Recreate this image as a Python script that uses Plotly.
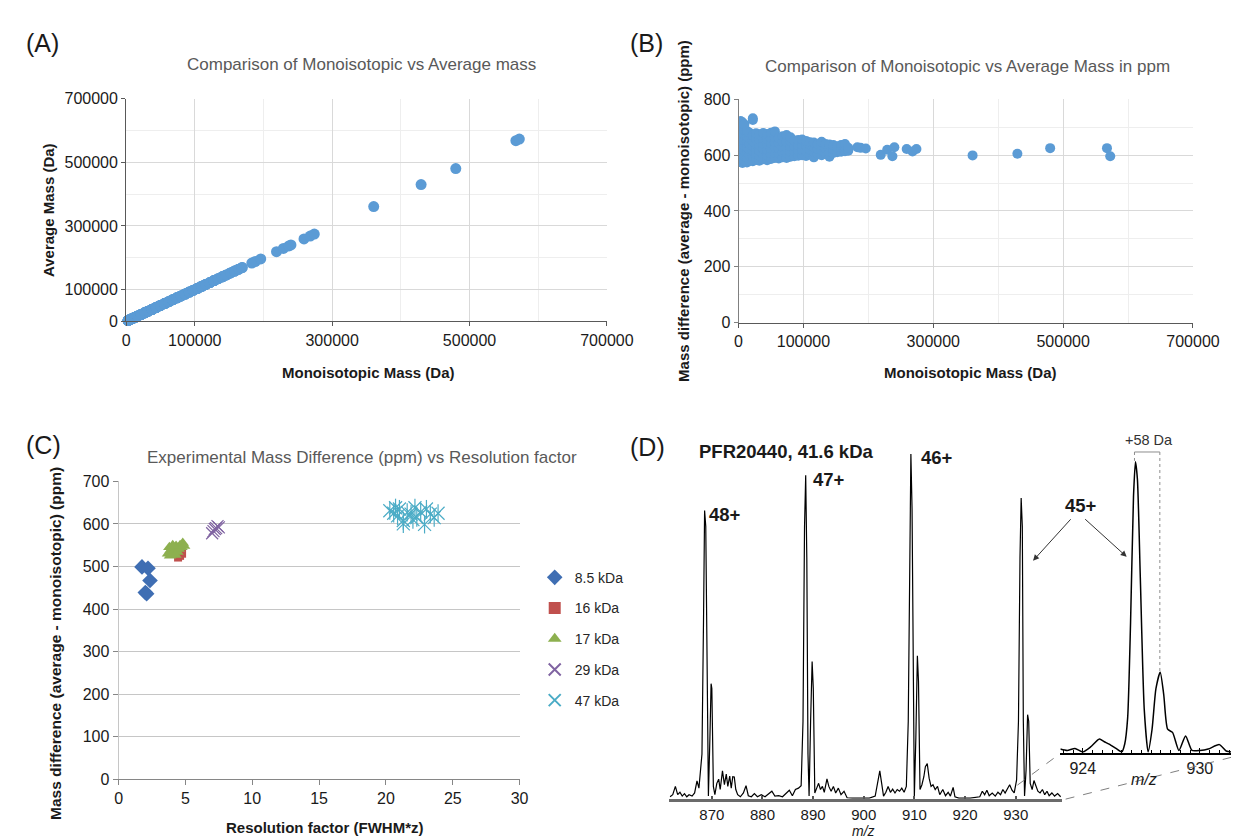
import plotly.graph_objects as go

W, H = 1251, 840
FONT = "Liberation Sans, Arial, sans-serif"

# ---------------- Panels A & B : monoisotopic vs average mass ----------------
cloud_mass_da = [3000, 6000, 9000, 13000, 17000, 22000, 27000, 32000, 38000, 44000,
                 50000, 56000, 62000, 68000, 74000, 80000, 86000, 92000, 98000, 104000,
                 110000, 116000, 122000, 128000, 134000, 140000, 146000, 152000, 158000,
                 164000, 169000]
cloud_ppm = [
    [575, 595, 615, 635, 655, 675, 695, 715, 722],
    [572, 590, 608, 626, 644, 662, 680, 700, 718],
    [578, 597, 616, 634, 652, 671, 690, 710],
    [574, 592, 612, 630, 650, 668, 686],
    [580, 600, 620, 640, 660, 680],
    [578, 596, 615, 633, 652, 670, 732, 726],
    [583, 602, 621, 640, 659, 678],
    [580, 598, 617, 636, 655, 675],
    [585, 603, 622, 641, 660, 679],
    [582, 600, 619, 638, 657, 676],
    [586, 605, 624, 643, 662, 680],
    [590, 608, 627, 646, 665, 685],
    [588, 606, 625, 644, 662],
    [592, 610, 629, 648, 668],
    [590, 609, 628, 647, 672],
    [594, 612, 631, 650, 664],
    [596, 614, 633, 652],
    [598, 616, 635, 654],
    [600, 618, 637, 656],
    [597, 615, 634, 651],
    [602, 620, 638, 646],
    [592, 611, 629, 645],
    [604, 622, 640],
    [600, 618, 636, 648],
    [606, 624, 640],
    [594, 612, 630, 638],
    [608, 622, 636],
    [610, 626, 632],
    [612, 624, 636],
    [614, 628, 640],
    [616, 626],
]
large_mass_da = [183000, 188000, 196000, 219000, 229000, 237000, 240000, 259000,
                 268000, 274000, 360500, 429500, 480000, 567500, 572500]
large_ppm = [628, 626, 624, 601, 619, 596, 628, 622, 613, 622, 599, 605, 625, 625, 596]

mono_mass = []
ppm_diff = []
for m, row in zip(cloud_mass_da, cloud_ppm):
    for p in row:
        mono_mass.append(m)
        ppm_diff.append(p)
mono_mass += large_mass_da
ppm_diff += large_ppm
avg_mass = [m * (1 + p * 1e-6) for m, p in zip(mono_mass, ppm_diff)]

mass_ticks = [0, 100000, 300000, 500000, 700000]
mass_minor = [200000, 400000, 600000]

# ---------------- Panel C : experimental mass difference ----------------
series_names = ["8.5 kDa", "16 kDa", "17 kDa", "29 kDa", "47 kDa"]
res_85 = [1.75, 2.2, 2.35, 2.0, 2.1]
ppm_85 = [499, 496, 467, 439, 436]
res_16 = [4.45, 4.6, 4.75]
ppm_16 = [521, 525, 530]
res_17 = [3.7, 3.8, 3.9, 4.0, 4.1, 4.2, 4.3, 4.4, 4.5, 4.6, 4.7, 4.8, 4.9, 3.85, 4.25, 4.05]
ppm_17 = [530, 545, 538, 528, 542, 535, 548, 534, 541, 550, 545, 555, 548, 525, 527, 550]
res_29 = [7.0, 7.2, 7.4, 7.3, 7.5, 7.1]
ppm_29 = [578, 588, 595, 590, 592, 583]
res_47 = [20.29, 20.58, 20.87, 21.01, 21.3, 21.59, 21.88, 22.17, 22.31, 22.6, 22.89,
          23.03, 23.32, 23.61, 23.9, 21.3, 22.02, 20.72]
ppm_47 = [631, 625, 619, 635, 608, 627, 623, 638, 615, 628, 599, 635, 623, 615, 625,
          600, 610, 638]

# ---------------- Panel D : spectrum ----------------
spec_mz = [861.75, 862.28, 862.8, 863.25, 863.7, 864.15, 864.6, 865.05, 865.5, 866.1,
           866.6, 867.07, 867.45, 867.75, 868.05, 868.35, 868.57, 868.8, 869.1, 869.32,
           869.62, 869.85, 870.0, 870.3, 870.6, 870.98, 871.35, 871.65, 872.1, 872.48,
           872.85, 873.15, 873.53, 873.83, 874.13, 874.43, 874.73, 875.1, 875.63, 876.23,
           876.75, 877.2, 877.8, 878.4, 879.0, 879.75, 880.5, 881.25, 881.85, 882.45,
           883.2, 883.95, 884.7, 885.3, 885.9, 886.5, 887.1, 887.63, 888.0, 888.3,
           888.53, 888.75, 888.98, 889.2, 889.5, 889.8, 890.03, 890.33, 890.7, 891.08,
           891.45, 891.83, 892.2, 892.73, 893.1, 893.55, 894.0, 894.45, 894.98, 895.5,
           896.1, 896.7, 897.75, 899.25, 901.1, 902.25, 902.78, 903.16, 903.53, 903.9,
           904.36, 904.8, 905.26, 905.7, 906.16, 906.6, 907.06, 907.5, 907.96, 908.4,
           908.78, 909.08, 909.3, 909.53, 909.76, 909.98, 910.28, 910.58, 910.8, 911.1,
           911.48, 911.86, 912.16, 912.53, 912.9, 913.28, 913.66, 914.1, 914.56, 915.0,
           915.6, 916.13, 916.66, 917.1, 917.64, 918.0, 918.76, 921.0, 922.9, 923.4,
           923.86, 924.3, 924.76, 925.36, 925.96, 926.49, 927.0, 927.46, 927.9, 928.36,
           928.8, 929.26, 929.7, 930.17, 930.54, 930.84, 931.07, 931.3, 931.5, 931.74,
           932.04, 932.34, 932.56, 932.86, 933.24, 933.6, 934.0, 934.37, 934.8, 935.27,
           935.72, 936.17, 936.6, 937.14, 937.67, 938.27, 938.87]
spec_int = [0.6, 1.2, 3.6, 1.2, 1.9, 0.8, 1.5, 0.6, 1.2, 0.8,
            1.7, 5.2, 3.1, 7.4, 13, 51, 83.6, 79, 22.5, 0.8,
            17.8, 33.4, 32, 3.6, 1.2, 4.5, 5.7, 2.7, 8.1, 4.1,
            7.2, 3.6, 6.6, 3.1, 6.4, 6.3, 2.7, 1.2, 0.6, 1.7,
            3.8, 0.9, 0.6, 1.5, 0.6, 1.2, 0.6, 1.4, 2.2, 0.8,
            0.9, 0.6, 1.7, 2.5, 0.9, 2.7, 3.1, 3.8, 22.5, 79,
            93.8, 70, 13, 0.8, 22.5, 39.8, 32, 1.7, 3.1, 4.5,
            2.7, 3.6, 1.9, 5.8, 3.6, 2.2, 3.6, 1.7, 3.1, 1.2,
            2.2, 0.3, 0.2, 0.2, 0.2, 0.8, 5.5, 8.1, 4.5, 0.8,
            1.9, 3.6, 1.9, 2.8, 1.7, 2.7, 2.2, 3.1, 1.9, 3.6,
            22.5, 79, 100, 84, 22.5, 0.6, 17.8, 41.5, 34, 2.7,
            4.1, 6.4, 9.3, 10.2, 6.0, 3.6, 4.1, 2.7, 3.6, 1.2,
            2.7, 0.9, 1.9, 0.8, 3.3, 0.6, 0.2, 0.2, 0.6, 2.2,
            1.2, 2.5, 0.9, 1.7, 0.8, 1.9, 1.2, 2.7, 1.7, 2.8,
            4.1, 2.5, 1.7, 5.5, 22.5, 70, 87.2, 79, 22.5, 0.8,
            8.3, 24.4, 22.5, 4.5, 2.7, 5.3, 3.6, 2.2, 1.7, 2.7,
            1.2, 2.2, 0.9, 1.7, 0.8, 1.5, 0.6]
spec_ticks = [870, 880, 890, 900, 910, 920, 930]

inset_mz = [922.85, 923.2, 923.6, 924.0, 924.4, 924.85, 925.1, 925.35, 925.7, 926.0,
            926.15, 926.3, 926.45, 926.6, 926.7, 926.8, 926.95, 927.15, 927.35, 927.55,
            927.75, 927.97, 928.15, 928.35, 928.6, 928.93, 929.27, 929.6, 930.0, 930.43,
            931.0, 931.35, 931.6]
inset_int = [1.3, 0.8, 1.5, 0.3, 2.0, 4.7, 3.8, 3.0, 1.5, 0.3,
             3.0, 12, 45, 88, 100, 94, 60, 15, 0.3, 8,
             22, 27.7, 20, 8.1, 7.0, 0.8, 5.8, 0.8, 0.8, 1.3,
             2.8, 0.6, 0.3]
inset_ticks = [924, 930]

# ---------------- helpers (layout geometry in screen pixels) ----------------
def xd(a, b):
    return [a / W, b / W]


def yd(top, bottom):
    return [1 - bottom / H, 1 - top / H]


def px(x):
    return x / W


def py(y):
    return 1 - y / H


blue = "#5B9BD5"
fig = go.Figure()

fig.add_trace(go.Scatter(x=mono_mass, y=avg_mass, mode="markers",
                         marker=dict(color=blue, size=11), xaxis="x", yaxis="y",
                         showlegend=False, cliponaxis=False, hoverinfo="skip"))
fig.add_trace(go.Scatter(x=mono_mass, y=ppm_diff, mode="markers",
                         marker=dict(color=blue, size=10), xaxis="x2", yaxis="y2",
                         showlegend=False, hoverinfo="skip"))

c_series = [
    (res_85, ppm_85, dict(symbol="diamond", size=12, color="#3F6EB3")),
    (res_16, ppm_16, dict(symbol="square", size=8, color="#C0504D")),
    (res_17, ppm_17, dict(symbol="triangle-up", size=11, color="#8DB04F")),
    (res_29, ppm_29, dict(symbol="x-thin-open", size=12, color="#8064A2",
                          line=dict(width=1.2, color="#8064A2"))),
    (res_47, ppm_47, dict(symbol="x-thin-open", size=13, color="#4BACC6",
                          line=dict(width=1.2, color="#4BACC6"))),
]
for name, (xs, ys, mk) in zip(series_names, c_series):
    fig.add_trace(go.Scatter(x=xs, y=ys, mode="markers", name=name, marker=mk,
                             xaxis="x3", yaxis="y3", legendgroup=name,
                             cliponaxis=False))
fig.add_trace(go.Scatter(x=res_47, y=ppm_47, mode="markers", name="47 kDa",
                         marker=dict(symbol="line-ns-open", size=13, color="#4BACC6",
                                     line=dict(width=1.2, color="#4BACC6")),
                         xaxis="x3", yaxis="y3", legendgroup="47 kDa", showlegend=False,
                         cliponaxis=False))

fig.add_trace(go.Scatter(x=spec_mz, y=spec_int, mode="lines",
                         line=dict(color="black", width=1.2), xaxis="x4", yaxis="y4",
                         showlegend=False, hoverinfo="skip"))
fig.add_trace(go.Scatter(x=inset_mz, y=inset_int, mode="lines",
                         line=dict(color="black", width=1.5, shape="spline", smoothing=0.6),
                         xaxis="x5", yaxis="y5", showlegend=False, hoverinfo="skip",
                         cliponaxis=True))

tickfont = dict(family=FONT, size=16, color="#1a1a1a")
grid = "#D9D9D9"
grid_minor = "#EEEEEE"

def mass_axis(domain, anchor):
    return dict(domain=domain, anchor=anchor, range=[0, 700000], tickmode="array",
                tickvals=mass_ticks, ticktext=[str(v) for v in mass_ticks],
                showgrid=True, gridcolor=grid, gridwidth=1,
                minor=dict(tickmode="array", tickvals=mass_minor, showgrid=True,
                           gridcolor=grid_minor, ticks=""),
                showline=True, linecolor="#595959", linewidth=1, ticks="outside",
                ticklen=4, tickcolor="#595959", zeroline=False, tickfont=tickfont)

fig.update_layout(
    width=W, height=H, margin=dict(l=0, r=0, t=0, b=0),
    paper_bgcolor="white", plot_bgcolor="white",
    font=dict(family=FONT, color="#1a1a1a"),
    xaxis=mass_axis(xd(117, 610), "y"),
    yaxis=mass_axis(yd(84.3, 311.7), "x"),
    xaxis2=mass_axis(xd(745, 1211), "y2"),
    yaxis2=dict(domain=yd(85, 313), anchor="x2", range=[0, 800], tickmode="array",
                tickvals=[0, 200, 400, 600, 800], showgrid=True, gridcolor=grid,
                minor=dict(tickmode="array", tickvals=[100, 300, 500, 700], showgrid=True,
                           gridcolor=grid_minor, ticks=""),
                showline=True, linecolor="#808080", ticks="outside", ticklen=4,
                tickcolor="#808080", zeroline=False, tickfont=tickfont),
    xaxis3=dict(domain=xd(109.3, 520.5), anchor="y3", range=[0, 30], tickmode="array",
                tickvals=[0, 5, 10, 15, 20, 25, 30], showgrid=False, showline=True,
                linecolor="#868686", ticks="outside", ticklen=5, tickcolor="#868686",
                zeroline=False, tickfont=tickfont),
    yaxis3=dict(domain=yd(475, 779), anchor="x3", range=[0, 700], tickmode="array",
                tickvals=[0, 100, 200, 300, 400, 500, 600, 700], showgrid=True,
                gridcolor="#C6C6C6", showline=True, linecolor="#C6C6C6", ticks="outside",
                ticklen=5, tickcolor="#868686", zeroline=False, tickfont=tickfont),
    xaxis4=dict(domain=xd(674, 1076.5), anchor="y4", range=[861.6, 939.1],
                tickmode="array", tickvals=spec_ticks, showgrid=False, showline=True,
                linecolor="#6B6B6B", linewidth=2.5, ticks="inside", ticklen=3,
                tickcolor="#555555", tickwidth=1.5, zeroline=False,
                tickfont=dict(family=FONT, size=15, color="#1a1a1a")),
    yaxis4=dict(domain=yd(440, 799), anchor="x4", range=[0, 102], visible=False),
    xaxis5=dict(domain=xd(1075, 1250), anchor="y5", range=[922.85, 931.6],
                tickmode="array", tickvals=inset_ticks, showgrid=False, showline=True,
                linecolor="black", linewidth=2, ticks="inside", ticklen=5,
                tickcolor="black", zeroline=False, tickfont=tickfont,
                minor=dict(tickmode="linear", tick0=922, dtick=0.5, ticks="inside",
                           ticklen=3, tickcolor="black")),
    yaxis5=dict(domain=yd(440, 752), anchor="x5", range=[0, 105], visible=False),
    legend=dict(x=px(536), y=py(557), xanchor="left", yanchor="top",
                font=dict(family=FONT, size=14, color="#262626"),
                bgcolor="rgba(0,0,0,0)", tracegroupgap=9.5, itemsizing="constant"),
    showlegend=True,
)

annotations = []

def label(s, x, y, size, color="#1a1a1a", angle=0):
    annotations.append(dict(text=s, x=px(x), y=py(y), xref="paper", yref="paper",
                            xanchor="center", yanchor="middle", showarrow=False,
                            textangle=angle, font=dict(family=FONT, size=size, color=color)))

# panel letters
label("(A)", 31, 28, 25)
label("(B)", 651, 28, 25)
label("(C)", 32, 438, 25)
label("(D)", 652, 440, 25)
# titles
label("Comparison of Monoisotopic vs Average mass", 358, 49, 17, "#595959")
label("Comparison of Monoisotopic vs Average Mass in ppm", 980, 52, 17, "#595959")
label("Experimental Mass Difference (ppm) vs Resolution factor", 359, 451, 17, "#595959")
# axis titles
label("<b>Monoisotopic Mass (Da)</b>", 366, 364, 15)
label("<b>Average Mass (Da)</b>", 38, 198, 15, angle=-90)
label("<b>Monoisotopic Mass (Da)</b>", 983, 364, 15)
label("<b>Mass difference (average - monoisotopic) (ppm)</b>", 689, 199, 15, angle=-90)
label("<b>Resolution factor (FWHM*z)</b>", 320, 828, 15)
label("<b>Mass difference (average - monoisotopic) (ppm)</b>", 44, 640, 15.5, angle=-90)
# panel D texts
label("<b>PFR20440, 41.6 kDa</b>", 794, 445, 18.5)
label("<b>48+</b>", 731, 509, 18.5)
label("<b>47+</b>", 838, 473, 18.5)
label("<b>46+</b>", 949, 451, 18.5)
label("<b>45+</b>", 1096, 500, 18.5)
label("+58 Da", 1166, 433, 14.5, "#333333")
label("<i>m/z</i>", 873, 832, 14)
label("<i>m/z</i>", 1161, 779, 16)

# arrows from "45+"
for head, tail in [((1047, 556), (1086, 513)), ((1143, 552), (1100, 513))]:
    annotations.append(dict(text="", x=px(head[0]), y=py(head[1]), xref="paper",
                            yref="paper", ax=tail[0] - head[0], ay=tail[1] - head[1],
                            showarrow=True, arrowhead=2, arrowsize=1.2, arrowwidth=1,
                            arrowcolor="#333333"))
fig.update_layout(annotations=annotations)

shapes = []

def seg(x0, y0, x1, y1, color, dash="solid", width=1):
    shapes.append(dict(type="line", xref="paper", yref="paper", x0=px(x0), y0=py(y0),
                       x1=px(x1), y1=py(y1), line=dict(color=color, width=width, dash=dash)))

# zoom connectors
seg(1031, 785, 1074.5, 753, "#7F7F7F", "dash")
seg(1080.4, 799.3, 1250, 756.7, "#7F7F7F", "dash")
# +58 Da bracket
seg(1151, 445, 1177, 445, "#8C8C8C")
seg(1151, 445, 1151, 454, "#8C8C8C", "dot")
seg(1177, 445, 1177, 670, "#8C8C8C", "dot")
fig.update_layout(shapes=shapes)

fig.write_html("out.html")
